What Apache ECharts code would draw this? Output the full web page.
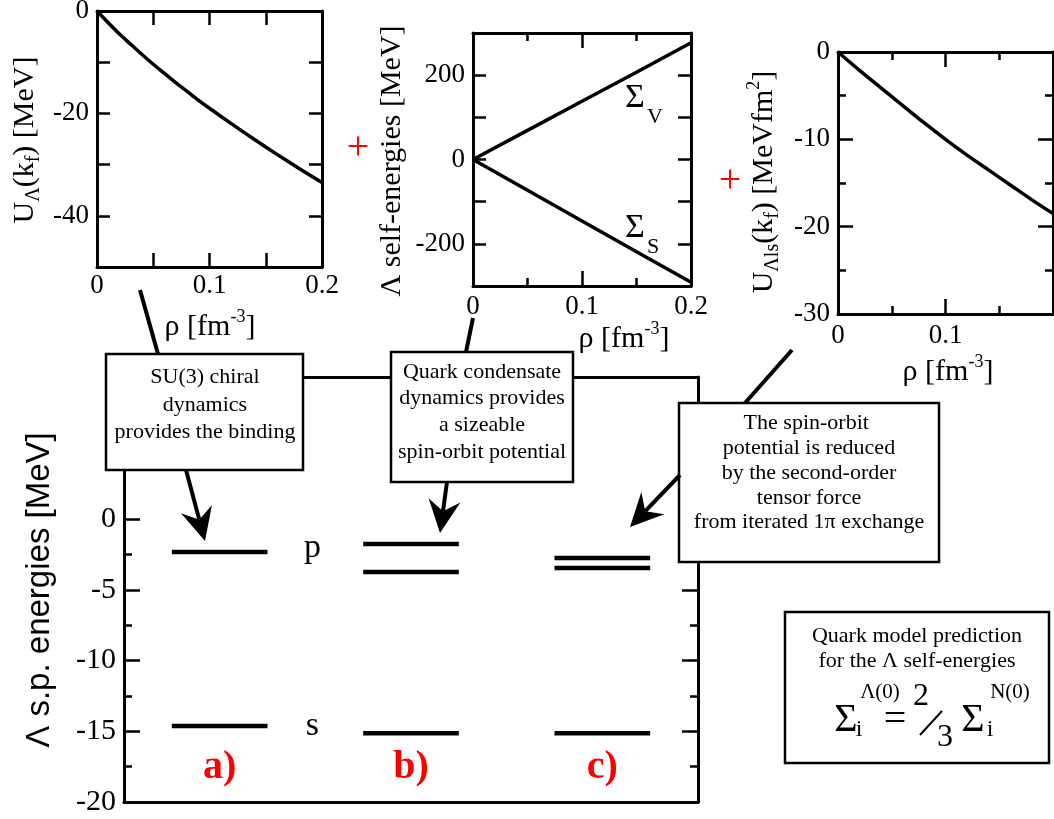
<!DOCTYPE html>
<html>
<head>
<meta charset="utf-8">
<script src="https://cdn.jsdelivr.net/npm/echarts@6/dist/echarts.min.js"></script>
<style>
  html, body { margin: 0; padding: 0; background: #fff; }
  #chart { width: 1054px; height: 819px; }
</style>
</head>
<body>
<div id="chart"></div>
<script>
var SERIF = "'Liberation Serif', 'DejaVu Serif', serif";

// main panel: Lambda single particle levels
var panelNames = ['a)', 'b)', 'c)'];
var panelX = [1, 3, 5];
var panelY = -17.6;
var levelSpan = [[0.5, 1.5], [2.5, 3.5], [4.5, 5.5]];
var pLevels = [[-2.33], [-1.77, -3.75], [-2.76, -3.46]];
var sLevels = [-14.63, -15.15, -15.15];
var shellNames = ['p', 's'];
var shellX = 1.97;
var shellY = [-2.05, -14.6];

// inset 1: U_Lambda(kf)
var rho1 = [0, 0.01, 0.02, 0.03, 0.04, 0.05, 0.06, 0.07, 0.08, 0.09, 0.1, 0.12, 0.14, 0.16, 0.18, 0.2];
var uLam = [0, -2.3, -4.5, -6.5, -8.5, -10.4, -12.2, -14.0, -15.7, -17.4, -19.0, -22.1, -25.1, -28.0, -30.8, -33.5];

// inset 2: self-energies
var rho2 = [0, 0.05, 0.1, 0.15, 0.2];
var sigmaV = [0, 69, 138, 207, 277];
var sigmaS = [0, -73, -146, -219, -291];

// inset 3: spin-orbit
var rho3 = [0, 0.02, 0.04, 0.06, 0.08, 0.1, 0.12, 0.14, 0.16, 0.18, 0.2];
var uLs = [0, -2.1, -4.1, -6.1, -8.1, -10.0, -11.8, -13.5, -15.2, -16.9, -18.5];

function ax(o) {
  return {
    type: 'value', gridIndex: o.grid, position: o.pos,
    min: o.min, max: o.max, interval: o.interval,
    axisLine: { show: o.line !== false, onZero: false, lineStyle: { color: '#000', width: 3 } },
    axisTick: { show: o.tick !== false, inside: true, length: o.tickLen || 15, lineStyle: { color: '#000', width: 2.5 } },
    minorTick: { show: !!o.minor, splitNumber: 2, length: 8, lineStyle: { color: '#000', width: 2.5 } },
    axisLabel: {
      show: !!o.label, margin: o.margin || 8, color: '#000',
      fontFamily: SERIF, fontSize: o.fontSize || 27,
      formatter: o.fmt, showMaxLabel: o.showMax
    },
    splitLine: { show: false }
  };
}

function zip(xs, ys) {
  return xs.map(function (x, i) { return [x, ys[i]]; });
}

var tenth = function (v) { var k = Math.round(v * 100); return k % 10 === 0 ? String(k / 100) : ''; };

var xAxes = [
  ax({ grid: 0, pos: 'bottom', min: 0, max: 6, tick: false }),
  ax({ grid: 0, pos: 'top', min: 0, max: 6, tick: false }),
  { type: 'value', gridIndex: 1, min: 0, max: 6, show: false },
  ax({ grid: 2, pos: 'bottom', min: 0, max: 0.2, interval: 0.05, label: true, fmt: tenth, margin: 5, tickLen: 14 }),
  ax({ grid: 2, pos: 'top', min: 0, max: 0.2, interval: 0.05, tickLen: 14 }),
  ax({ grid: 3, pos: 'bottom', min: 0, max: 0.2, interval: 0.1, minor: true, label: true, margin: 7 }),
  ax({ grid: 3, pos: 'top', min: 0, max: 0.2, interval: 0.1, minor: true }),
  ax({ grid: 4, pos: 'bottom', min: 0, max: 0.2, interval: 0.1, minor: true, label: true, margin: 8, showMax: false }),
  ax({ grid: 4, pos: 'top', min: 0, max: 0.2, interval: 0.1, minor: true })
];

var yAxes = [
  ax({ grid: 0, pos: 'left', min: -20, max: 10, tick: false }),
  ax({ grid: 0, pos: 'right', min: -20, max: 10, tick: false }),
  ax({ grid: 1, pos: 'left', min: -20, max: 0, interval: 5, minor: true, label: true, fontSize: 30, line: false, tickLen: 16 }),
  ax({ grid: 1, pos: 'right', min: -20, max: 0, interval: 5, minor: true, line: false, tickLen: 16 }),
  ax({ grid: 2, pos: 'left', min: -50, max: 0, interval: 10, label: true, tickLen: 13,
       fmt: function (v) { return v % 20 === 0 ? String(v) : ''; } }),
  ax({ grid: 2, pos: 'right', min: -50, max: 0, interval: 10, tickLen: 13 }),
  ax({ grid: 3, pos: 'left', min: -300, max: 300, interval: 100, label: true, tickLen: 13,
       fmt: function (v) { return v % 200 === 0 ? String(v) : ''; } }),
  ax({ grid: 3, pos: 'right', min: -300, max: 300, interval: 100, tickLen: 13 }),
  ax({ grid: 4, pos: 'left', min: -30, max: 0, interval: 10, minor: true, label: true }),
  ax({ grid: 4, pos: 'right', min: -30, max: 0, interval: 10, minor: true })
];

var series = [];
levelSpan.forEach(function (span, i) {
  pLevels[i].concat([sLevels[i]]).forEach(function (e) {
    series.push({
      type: 'line', xAxisIndex: 2, yAxisIndex: 2, symbol: 'none', silent: true,
      data: [[span[0], e], [span[1], e]],
      lineStyle: { color: '#000', width: 4.5 }
    });
  });
});
series.push({
  type: 'scatter', xAxisIndex: 2, yAxisIndex: 2, symbolSize: 1, silent: true,
  itemStyle: { color: 'rgba(0,0,0,0)', opacity: 1 },
  data: shellNames.map(function (n, i) { return { name: n, value: [shellX, shellY[i]] }; }),
  label: { show: true, position: 'inside', formatter: '{b}', color: '#000', fontFamily: SERIF, fontSize: 34 }
});
series.push({
  type: 'scatter', xAxisIndex: 2, yAxisIndex: 2, symbolSize: 1, silent: true,
  itemStyle: { color: 'rgba(0,0,0,0)', opacity: 1 },
  data: panelNames.map(function (n, i) { return { name: n, value: [panelX[i], panelY] }; }),
  label: { show: true, position: 'inside', formatter: '{b}', color: '#ff0000', fontFamily: SERIF, fontSize: 40, fontWeight: 'bold' }
});
var curve = { color: '#000', width: 3.5 };
series.push({ type: 'line', xAxisIndex: 3, yAxisIndex: 4, symbol: 'none', smooth: 0.3, data: zip(rho1, uLam), lineStyle: curve });
series.push({ type: 'line', xAxisIndex: 5, yAxisIndex: 6, symbol: 'none', data: zip(rho2, sigmaV), lineStyle: curve });
series.push({ type: 'line', xAxisIndex: 5, yAxisIndex: 6, symbol: 'none', data: zip(rho2, sigmaS), lineStyle: curve });
series.push({ type: 'line', xAxisIndex: 7, yAxisIndex: 8, symbol: 'none', smooth: 0.3, data: zip(rho3, uLs), lineStyle: curve });

// rich text pieces for axis titles (sub/superscripts)
var rich = {
  n: { font: "30px 'Liberation Serif'", lineHeight: 38 },
  sub: { font: "20px 'Liberation Serif'", lineHeight: 20, verticalAlign: 'bottom' },
  sup: { font: "18px 'Liberation Serif'", lineHeight: 18, verticalAlign: 'top' }
};
function txt(x, y, text, o) {
  o = o || {};
  var size = o.size || 22;
  var family = o.family || "'Liberation Serif'";
  return {
    type: 'text', x: x, y: y, z: 101, rotation: o.rot || 0, silent: true,
    style: {
      text: text, fill: o.color || '#000',
      font: (o.weight || 'normal') + ' ' + size + 'px ' + family,
      align: 'center', verticalAlign: 'middle', lineHeight: o.lh, rich: rich
    }
  };
}
function box(x, y, w, h) {
  return { type: 'rect', z: 100, shape: { x: x, y: y, width: w, height: h },
           style: { fill: '#fff', stroke: '#000', lineWidth: 2.5 } };
}
function seg(x1, y1, x2, y2, w) {
  return { type: 'line', z: 100, shape: { x1: x1, y1: y1, x2: x2, y2: y2 },
           style: { stroke: '#000', lineWidth: w || 4 } };
}
function arrow(x1, y1, x2, y2) {
  var dx = x2 - x1, dy = y2 - y1, len = Math.sqrt(dx * dx + dy * dy);
  var ux = dx / len, uy = dy / len, nx = -uy, ny = ux;
  var L = 33, W = 16, D = 22;
  return [
    seg(x1, y1, x2 - D * ux, y2 - D * uy, 4),
    { type: 'polygon', z: 100, shape: { points: [
        [x2, y2],
        [x2 - L * ux + W * nx, y2 - L * uy + W * ny],
        [x2 - D * ux, y2 - D * uy],
        [x2 - L * ux - W * nx, y2 - L * uy - W * ny]
      ] }, style: { fill: '#000' } }
  ];
}

var g = [];
g.push(seg(140, 290, 158, 354, 4));
g.push(seg(473, 318, 466, 352, 4));
g.push(seg(792, 350, 745, 403, 4));
g.push(box(106, 354, 197, 116));
g.push(box(391, 352, 182, 130));
g.push(box(679, 403, 260, 159));
g.push(box(785, 612, 264, 151));
g = g.concat(arrow(186, 470, 205, 541), arrow(447, 482, 440, 533), arrow(680, 475, 630, 527));

g.push(txt(205, 405, 'SU(3) chiral\ndynamics\nprovides the binding', { lh: 27.5 }));
g.push(txt(482, 412, 'Quark condensate\ndynamics provides\na sizeable\nspin-orbit potential', { lh: 26.7 }));
g.push(txt(809, 473, 'The spin-orbit \npotential is reduced\nby the second-order\ntensor force\nfrom iterated 1\u03c0 exchange', { lh: 24.8 }));
g.push(txt(917, 649, 'Quark model prediction\nfor the \u039b self-energies', { lh: 25 }));

// formula in box 4
g.push(txt(846, 720, '\u03a3', { size: 40 }));
g.push(txt(859, 730, 'i', { size: 24 }));
g.push(txt(880, 692, '\u039b(0)', { size: 21 }));
g.push(txt(895, 720, '=', { size: 40 }));
g.push(txt(921, 697, '2', { size: 32 }));
g.push(seg(920, 735, 942, 711, 2));
g.push(txt(945, 738, '3', { size: 32 }));
g.push(txt(973, 720, '\u03a3', { size: 40 }));
g.push(txt(990, 730, 'i', { size: 24 }));
g.push(txt(1010, 692, 'N(0)', { size: 21 }));

// self-energy labels in inset 2
g.push(txt(635, 98, '\u03a3', { size: 34 }));
g.push(txt(655, 117, 'V', { size: 22 }));
g.push(txt(635, 228, '\u03a3', { size: 34 }));
g.push(txt(653, 247, 'S', { size: 22 }));

// red plus signs
g.push(txt(358, 148, '+', { size: 40, color: '#ff0000' }));
g.push(txt(730, 181, '+', { size: 40, color: '#ff0000' }));

// axis titles
g.push(txt(40, 590, '\u039b s.p. energies [MeV]', { size: 33, family: "'Liberation Sans'", rot: Math.PI / 2 }));
g.push(txt(25, 140, '{n|U}{sub|\u039b}{n|(k}{sub|f}{n|) [MeV]}', { rot: Math.PI / 2 }));
g.push(txt(392, 161, '{n|\u039b self-energies [MeV]}', { rot: Math.PI / 2 }));
g.push(txt(764, 182, '{n|U}{sub|\u039bls}{n|(k}{sub|f}{n|) [MeVfm}{sup|2}{n|]}', { rot: Math.PI / 2 }));
g.push(txt(210, 327, '{n|\u03c1 [fm}{sup|-3}{n|]}'));
g.push(txt(624, 339, '{n|\u03c1 [fm}{sup|-3}{n|]}'));
g.push(txt(948, 372, '{n|\u03c1 [fm}{sup|-3}{n|]}'));

var grids = [
  { left: 124, top: 377, width: 574, height: 425 },
  { left: 124, top: 519, width: 574, height: 283 },
  { left: 97, top: 11, width: 225, height: 256 },
  { left: 473, top: 33, width: 218, height: 253 },
  { left: 838, top: 52, width: 215, height: 262 }
].map(function (o) { o.containLabel = false; o.outerBoundsMode = 'none'; return o; });

var myChart = echarts.init(document.getElementById('chart'));
var option = {
  animation: false,
  backgroundColor: '#fff',
  grid: grids,
  xAxis: xAxes,
  yAxis: yAxes,
  series: series,
  graphic: { elements: g }
};
myChart.setOption(option);
</script>
</body>
</html>
